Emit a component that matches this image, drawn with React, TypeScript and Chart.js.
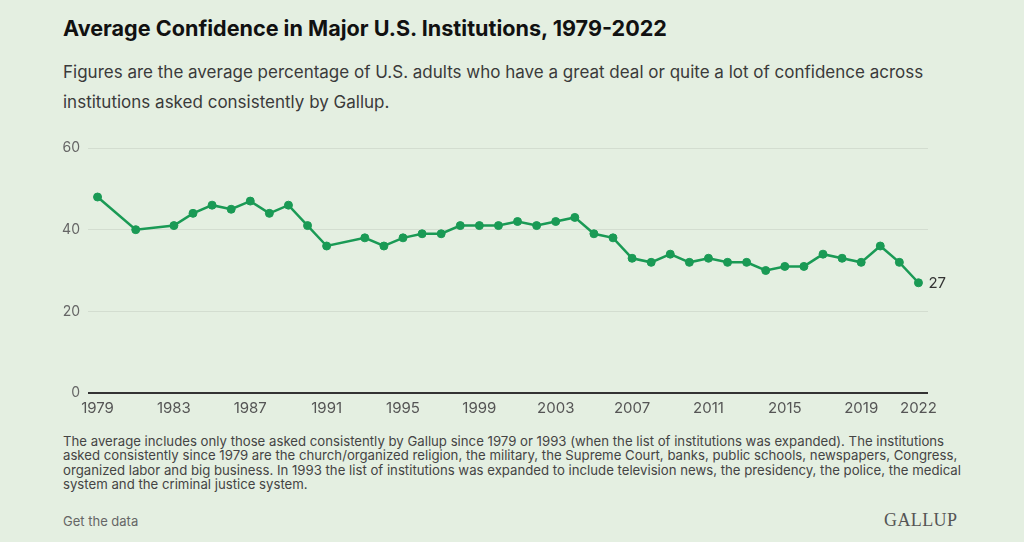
import React, { useEffect, useRef } from "react";
import { Chart, registerables } from "chart.js";

Chart.register(...registerables);

const years = [
  1979, 1981, 1983, 1984, 1985, 1986, 1987, 1988, 1989, 1990, 1991, 1993, 1994, 1995,
  1996, 1997, 1998, 1999, 2000, 2001, 2002, 2003, 2004, 2005, 2006, 2007, 2008, 2009,
  2010, 2011, 2012, 2013, 2014, 2015, 2016, 2017, 2018, 2019, 2020, 2021, 2022,
];
const confidence = [
  48, 40, 41, 44, 46, 45, 47, 44, 46, 41, 36, 38, 36, 38, 39, 39, 41, 41, 41, 42, 41, 42,
  43, 39, 38, 33, 32, 34, 32, 33, 32, 32, 30, 31, 31, 34, 33, 32, 36, 32, 27,
];
const xTickYears = [1979, 1983, 1987, 1991, 1995, 1999, 2003, 2007, 2011, 2015, 2019, 2022];
const yTickValues = [0, 20, 40, 60];

const title = "Average Confidence in Major U.S. Institutions, 1979-2022";
const subtitleLines = [
  "Figures are the average percentage of U.S. adults who have a great deal or quite a lot of confidence across",
  "institutions asked consistently by Gallup.",
];
const noteLines = [
  "The average includes only those asked consistently by Gallup since 1979 or 1993 (when the list of institutions was expanded). The institutions",
  "asked consistently since 1979 are the church/organized religion, the military, the Supreme Court, banks, public schools, newspapers, Congress,",
  "organized labor and big business. In 1993 the list of institutions was expanded to include television news, the presidency, the police, the medical",
  "system and the criminal justice system.",
];

const BG = "#e4efe1";
const GREEN = "#1a9a55";

const lastLabelPlugin = {
  id: "lastLabel",
  afterDatasetsDraw(chart: any) {
    const meta = chart.getDatasetMeta(0);
    const pts = meta.data;
    if (!pts.length) return;
    const p = pts[pts.length - 1];
    const ds = chart.data.datasets[0].data;
    const v = ds[ds.length - 1].y;
    const ctx = chart.ctx;
    ctx.save();
    ctx.font = "15px Inter";
    ctx.fillStyle = "#333";
    ctx.textAlign = "left";
    ctx.textBaseline = "middle";
    ctx.fillText(String(v), p.x + 10, p.y + 1);
    ctx.restore();
  },
};

export default function App() {
  const ref = useRef<HTMLCanvasElement>(null);

  useEffect(() => {
    if (!ref.current) return;
    const chart = new Chart(ref.current, {
      type: "line",
      data: {
        datasets: [
          {
            data: years.map((y, i) => ({ x: y, y: confidence[i] })),
            borderColor: GREEN,
            backgroundColor: GREEN,
            pointBackgroundColor: GREEN,
            pointBorderColor: GREEN,
            borderWidth: 2.5,
            pointRadius: 4,
            pointBorderWidth: 1,
            tension: 0,
          },
        ],
      },
      options: {
        animation: false,
        responsive: false,
        devicePixelRatio: 1,
        layout: { padding: { top: 18, right: 96, bottom: 0, left: 0 } },
        plugins: { legend: { display: false }, tooltip: { enabled: false } },
        scales: {
          x: {
            type: "linear",
            min: 1978.5,
            max: 2022.5,
            afterBuildTicks: (axis: any) => {
              axis.ticks = xTickYears.map((v) => ({ value: v }));
            },
            afterFit: (axis: any) => {
              axis.height = 37;
            },
            grid: { display: false, drawTicks: false },
            border: { display: false },
            ticks: {
              autoSkip: false,
              maxRotation: 0,
              padding: 6,
              color: "#555",
              font: { family: "Inter", size: 15 },
              callback: (v: any) => String(v),
            },
          },
          y: {
            min: 0,
            max: 60,
            afterBuildTicks: (axis: any) => {
              axis.ticks = yTickValues.map((v) => ({ value: v }));
            },
            afterFit: (axis: any) => {
              axis.width = 88;
            },
            grid: {
              drawTicks: false,
              color: (c: any) => (c.tick && c.tick.value === 0 ? "#333" : "#d3ddd0"),
              lineWidth: (c: any) => (c.tick && c.tick.value === 0 ? 2 : 1),
            },
            border: { display: false },
            ticks: {
              padding: 8,
              color: "#666",
              font: { family: "Inter", size: 14 },
              callback: (v: any) => String(v),
            },
          },
        },
      },
      plugins: [lastLabelPlugin],
    });
    return () => chart.destroy();
  }, []);

  return (
    <div
      style={{
        position: "absolute",
        left: 0,
        top: 0,
        width: 1024,
        height: 542,
        background: BG,
        overflow: "hidden",
        fontFamily: "Inter, sans-serif",
      }}
    >
      <div
        style={{
          position: "absolute",
          left: 63,
          top: 15,
          fontSize: 21.6,
          lineHeight: "26px",
          fontWeight: 700,
          color: "#111",
          whiteSpace: "nowrap",
        }}
      >
        {title}
      </div>
      <div
        style={{
          position: "absolute",
          left: 63,
          top: 57,
          fontSize: 17,
          lineHeight: "30px",
          color: "#3a3a3a",
          whiteSpace: "nowrap",
        }}
      >
        {subtitleLines.map((l, i) => (
          <div key={i}>{l}</div>
        ))}
      </div>
      <div style={{ position: "absolute", left: 0, top: 130, width: 1024, height: 300 }}>
        <canvas ref={ref} width={1024} height={300} style={{ display: "block" }} />
      </div>
      <div
        style={{
          position: "absolute",
          left: 63,
          top: 434,
          fontSize: 13.2,
          lineHeight: "14.4px",
          color: "#444",
          whiteSpace: "nowrap",
        }}
      >
        {noteLines.map((l, i) => (
          <div key={i}>{l}</div>
        ))}
      </div>
      <div
        style={{
          position: "absolute",
          left: 63,
          top: 512,
          fontSize: 13,
          lineHeight: "18px",
          color: "#666",
        }}
      >
        Get the data
      </div>
      <div
        style={{
          position: "absolute",
          left: 884,
          top: 509,
          fontSize: 18,
          lineHeight: "22px",
          color: "#555",
          fontFamily: "'Liberation Serif', 'DejaVu Serif', serif",
          letterSpacing: 0.4,
        }}
      >
        GALLUP
      </div>
    </div>
  );
}
